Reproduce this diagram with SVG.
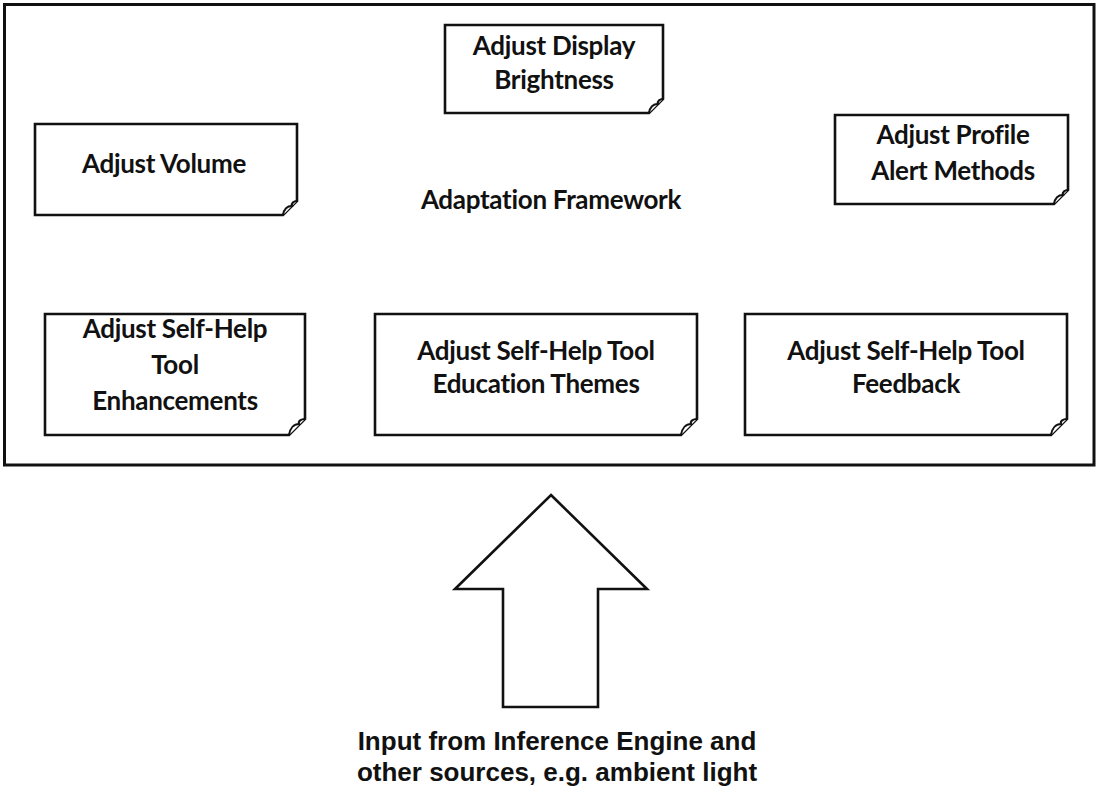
<svg xmlns="http://www.w3.org/2000/svg" width="1097" height="793" viewBox="0 0 1097 793">
  <defs>
    <style>
      .frame { fill: #fff; stroke: #111; stroke-width: 3; }
      .note { fill: #fff; stroke: #111; stroke-width: 2.6; stroke-linejoin: miter; }
      .curl { fill: #fff; stroke: #111; stroke-width: 2; }
      .lbl { font-family: Lato, "Open Sans", sans-serif; font-weight: bold; font-size: 26px; fill: #111; text-anchor: middle; letter-spacing: -0.3px; }
      .in { font-family: "Liberation Sans", Arial, sans-serif; font-weight: bold; font-size: 26px; fill: #111; text-anchor: middle; }
      .arrow { fill: #fff; stroke: #111; stroke-width: 2.6; stroke-linejoin: miter; }
    </style>
  </defs>

  <rect width="1097" height="793" fill="#fff"/>

  <!-- Adaptation Framework container -->
  <g id="framework">
    <rect class="frame" x="4.5" y="4.5" width="1089.5" height="460.5"/>
    <text class="lbl" x="551" y="209">Adaptation Framework</text>
  </g>

  <!-- note-shaped nodes: folded bottom-right corner -->
  <g id="display-brightness" transform="translate(445,25)">
    <path class="note" d="M0,0 H218 V74 L204,88 H0 Z"/>
    <path class="curl" d="M204,88 C205,82 208,79 213,79 C212,76 215,74 218,74"/>
    <text class="lbl" x="109" y="30">Adjust Display</text>
    <text class="lbl" x="109" y="64">Brightness</text>
  </g>

  <g id="volume" transform="translate(35,124)">
    <path class="note" d="M0,0 H262 V77 L248,91 H0 Z"/>
    <path class="curl" d="M248,91 C249,85 252,82 257,82 C256,79 259,77 262,77"/>
    <text class="lbl" x="129" y="49">Adjust Volume</text>
  </g>

  <g id="profile-alert" transform="translate(835,115)">
    <path class="note" d="M0,0 H233 V75 L219,89 H0 Z"/>
    <path class="curl" d="M219,89 C220,83 223,80 228,80 C227,77 230,75 233,75"/>
    <text class="lbl" x="118" y="29">Adjust Profile</text>
    <text class="lbl" x="118" y="65">Alert Methods</text>
  </g>

  <g id="tool-enhancements" transform="translate(45,314)">
    <path class="note" d="M0,0 H260 V105 L244,121 H0 Z"/>
    <path class="curl" d="M244,121 C245,114 249,110 254,110 C253,107 256,105 260,105"/>
    <text class="lbl" x="130" y="24">Adjust Self-Help</text>
    <text class="lbl" x="130" y="60">Tool</text>
    <text class="lbl" x="130" y="96">Enhancements</text>
  </g>

  <g id="tool-education" transform="translate(375,314)">
    <path class="note" d="M0,0 H322 V105 L306,121 H0 Z"/>
    <path class="curl" d="M306,121 C307,114 311,110 316,110 C315,107 318,105 322,105"/>
    <text class="lbl" x="161" y="46">Adjust Self-Help Tool</text>
    <text class="lbl" x="161" y="79">Education Themes</text>
  </g>

  <g id="tool-feedback" transform="translate(745,314)">
    <path class="note" d="M0,0 H322 V105 L306,121 H0 Z"/>
    <path class="curl" d="M306,121 C307,114 311,110 316,110 C315,107 318,105 322,105"/>
    <text class="lbl" x="161" y="46">Adjust Self-Help Tool</text>
    <text class="lbl" x="161" y="79">Feedback</text>
  </g>

  <!-- block arrow feeding the framework -->
  <g id="connectors">
    <path class="arrow" d="M551,495 L647,589 H598 V707 H503 V589 H455 Z"/>
  </g>

  <g id="input-source">
    <text class="in" x="557" y="750">Input from Inference Engine and</text>
    <text class="in" x="557" y="781">other sources, e.g. ambient light</text>
  </g>
</svg>
